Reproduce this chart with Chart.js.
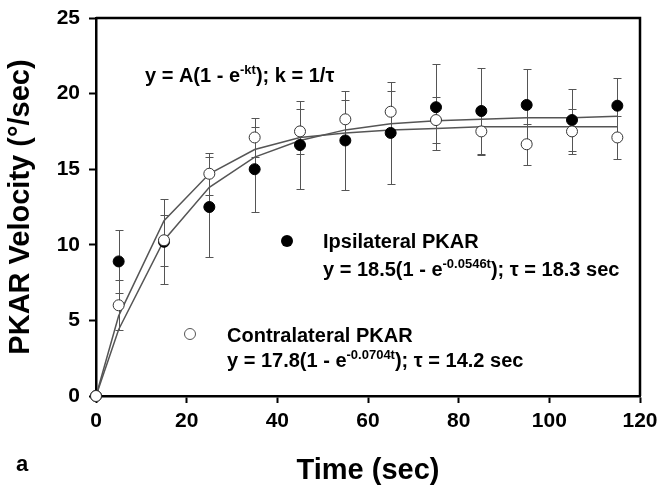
<!DOCTYPE html>
<html>
<head>
<meta charset="utf-8">
<script src="https://cdn.jsdelivr.net/npm/chart.js@4.4.0/dist/chart.umd.min.js"></script>
<style>
  html, body { margin: 0; padding: 0; background: #fff; }
  #wrap { width: 658px; height: 490px; }
</style>
</head>
<body>
<div id="wrap"><canvas id="chart" width="658" height="490"></canvas></div>
<script>
// time points (sec)
const times = [0, 5, 15, 25, 35, 45, 55, 65, 75, 85, 95, 105, 115];

// ipsilateral PKAR: mean velocity and error (°/sec), filled circles
const ipsiMean = [0, 8.9, 10.2, 12.5, 15.0, 16.6, 16.9, 17.4, 19.1, 18.85, 19.25, 18.25, 19.2];
const ipsiErr  = [0, 2.1, 2.8, 3.3, 2.8, 2.9, 3.3, 3.4, 2.85, 2.85, 2.35, 2.05, 1.85];

// contralateral PKAR: open circles
const contraMean = [0, 6.0, 10.3, 14.7, 17.1, 17.5, 18.3, 18.8, 18.25, 17.5, 16.65, 17.5, 17.1];
const contraErr  = [0, 1.65, 1.7, 1.4, 1.3, 1.5, 1.3, 1.4, 1.55, 1.55, 1.35, 1.5, 1.4];

// fitted curves at the same time points
const ipsiFit   = [0, 4.4, 10.3, 13.8, 15.8, 16.9, 17.6, 18.0, 18.2, 18.3, 18.4, 18.4, 18.5];
const contraFit = [0, 5.3, 11.6, 14.7, 16.3, 17.1, 17.4, 17.6, 17.7, 17.8, 17.8, 17.8, 17.8];

const xTicks = [0, 20, 40, 60, 80, 100, 120];
const yTicks = [0, 5, 10, 15, 20, 25];

const FONT = '"Liberation Sans", Arial, sans-serif';

const pts = (ys) => times.map((t, i) => ({ x: t, y: ys[i] }));

// vertical error bars with caps, under everything else
const errorBars = {
  id: 'errorBars',
  beforeDatasetsDraw(chart) {
    const { ctx, scales: { x, y } } = chart;
    ctx.save();
    ctx.strokeStyle = '#555';
    ctx.lineWidth = 1;
    [[ipsiMean, ipsiErr], [contraMean, contraErr]].forEach(([m, e]) => {
      times.forEach((t, i) => {
        if (!e[i]) return;
        const px = Math.round(x.getPixelForValue(t)) + 0.5;
        const top = Math.round(y.getPixelForValue(m[i] + e[i])) + 0.5;
        const bot = Math.round(y.getPixelForValue(m[i] - e[i])) + 0.5;
        ctx.beginPath();
        ctx.moveTo(px, top); ctx.lineTo(px, bot);
        ctx.moveTo(px - 4, top); ctx.lineTo(px + 4, top);
        ctx.moveTo(px - 4, bot); ctx.lineTo(px + 4, bot);
        ctx.stroke();
      });
    });
    ctx.restore();
  }
};

// top + right frame lines
const frame = {
  id: 'frame',
  afterDraw(chart) {
    const { ctx, chartArea: a } = chart;
    ctx.save();
    ctx.strokeStyle = '#000';
    ctx.lineWidth = 2.5;
    ctx.beginPath();
    ctx.moveTo(a.left, a.top);
    ctx.lineTo(a.right, a.top);
    ctx.lineTo(a.right, a.bottom);
    ctx.stroke();
    ctx.restore();
  }
};

// text with superscript pieces: [text, isSup]
function drawRich(ctx, parts, x, y) {
  parts.forEach(([txt, sup]) => {
    ctx.font = (sup ? 'bold 13px ' : 'bold 20px ') + FONT;
    ctx.fillText(txt, x, sup ? y - 8 : y);
    x += ctx.measureText(txt).width;
  });
}

const notes = {
  id: 'notes',
  afterDraw(chart) {
    const { ctx } = chart;
    ctx.save();
    ctx.fillStyle = '#000';
    ctx.textBaseline = 'alphabetic';
    ctx.textAlign = 'left';

    drawRich(ctx, [['y = A(1 - e'], ['-kt', true], ['); k = 1/τ']], 145, 82);

    // ipsilateral key
    ctx.beginPath();
    ctx.arc(287, 241, 6, 0, Math.PI * 2);
    ctx.fill();
    drawRich(ctx, [['Ipsilateral PKAR']], 323, 248);
    drawRich(ctx, [['y = 18.5(1 - e'], ['-0.0546t', true], ['); τ = 18.3 sec']], 323, 276);

    // contralateral key
    ctx.beginPath();
    ctx.arc(190, 334, 5.5, 0, Math.PI * 2);
    ctx.fillStyle = '#fff';
    ctx.fill();
    ctx.strokeStyle = '#555';
    ctx.lineWidth = 1;
    ctx.stroke();
    ctx.fillStyle = '#000';
    drawRich(ctx, [['Contralateral PKAR']], 227, 342);
    drawRich(ctx, [['y = 17.8(1 - e'], ['-0.0704t', true], ['); τ = 14.2 sec']], 227, 367);

    // panel letter
    ctx.font = 'bold 22px ' + FONT;
    ctx.fillText('a', 16, 471);
    ctx.restore();
  }
};

new Chart(document.getElementById('chart'), {
  type: 'scatter',
  data: {
    datasets: [
      {
        label: 'Contralateral PKAR',
        data: pts(contraMean),
        pointRadius: 5.5,
        pointBackgroundColor: '#fff',
        pointBorderColor: '#333',
        pointBorderWidth: 1,
        clip: false
      },
      {
        label: 'Ipsilateral PKAR',
        data: pts(ipsiMean),
        pointRadius: 5.5,
        pointBackgroundColor: '#000',
        pointBorderColor: '#000',
        pointBorderWidth: 1,
        clip: false
      },
      {
        label: 'Ipsilateral fit',
        data: pts(ipsiFit),
        showLine: true,
        pointRadius: 0,
        borderColor: '#555',
        borderWidth: 1.5,
        clip: false
      },
      {
        label: 'Contralateral fit',
        data: pts(contraFit),
        showLine: true,
        pointRadius: 0,
        borderColor: '#555',
        borderWidth: 1.5,
        clip: false
      }
    ]
  },
  options: {
    responsive: false,
    animation: false,
    devicePixelRatio: 1,
    layout: { padding: { left: 0, right: 18, top: 18, bottom: 0 } },
    plugins: { legend: { display: false }, tooltip: { enabled: false } },
    scales: {
      x: {
        type: 'linear',
        min: 0,
        max: 120,
        afterBuildTicks: s => { s.ticks = xTicks.map(v => ({ value: v })); },
        afterFit: s => { s.height = 94; s.paddingLeft = 0; s.paddingRight = 0; },
        grid: { drawOnChartArea: false, drawTicks: true, tickLength: 7, tickWidth: 2, tickColor: '#000' },
        border: { display: true, color: '#000', width: 2.5 },
        ticks: { color: '#000', padding: 6, maxRotation: 0, font: { family: FONT, size: 21, weight: 'bold' } },
        title: { display: true, text: 'Time (sec)', color: '#000', padding: { top: 0, bottom: 2 },
                 font: { family: FONT, size: 29, weight: 'bold' } }
      },
      y: {
        type: 'linear',
        min: 0,
        max: 25,
        afterBuildTicks: s => { s.ticks = yTicks.map(v => ({ value: v })); },
        afterFit: s => { s.width = 96; s.paddingTop = 0; s.paddingBottom = 0; },
        grid: { drawOnChartArea: false, drawTicks: true, tickLength: 7, tickWidth: 2, tickColor: '#000' },
        border: { display: true, color: '#000', width: 2.5 },
        ticks: { color: '#000', padding: 9, font: { family: FONT, size: 21, weight: 'bold' } },
        title: { display: true, text: 'PKAR Velocity (°/sec)', color: '#000', padding: { top: 4, bottom: 0 },
                 font: { family: FONT, size: 29, weight: 'bold' } }
      }
    }
  },
  plugins: [errorBars, frame, notes]
});
</script>
</body>
</html>
